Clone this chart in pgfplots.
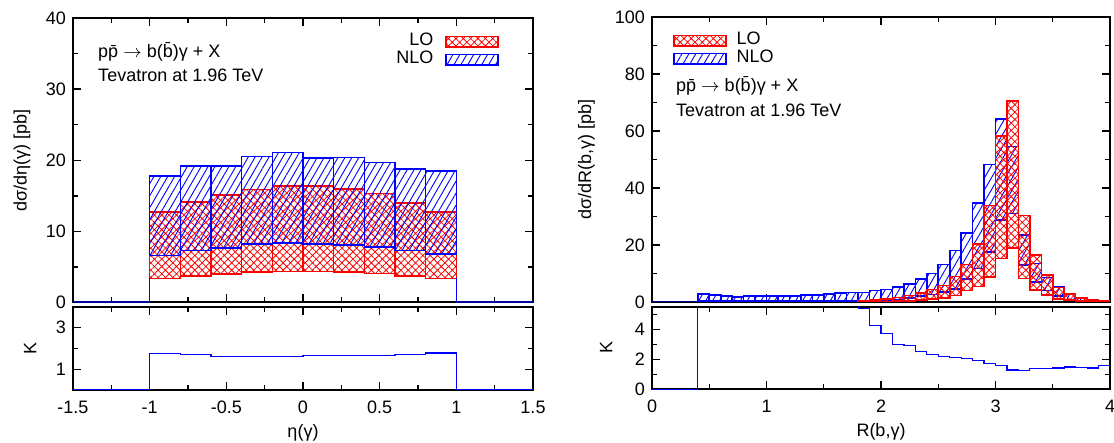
\documentclass[border=0pt]{standalone}
\usepackage{fontspec}
\setmainfont{Liberation Sans}
\usepackage{pgfplots}
\pgfplotsset{compat=1.18}
\usepackage{pgfplotstable}
\usetikzlibrary{patterns.meta}

\tikzset{
  lostyle/.style={draw=red, line width=0.8pt, pattern={Hatch[angle=45,distance=2.6pt,line width=0.4pt]}, pattern color=red},
  nlostyle/.style={draw=blue, line width=0.8pt, pattern={Lines[angle=60,distance=3pt,line width=0.45pt]}, pattern color=blue},
}
\pgfplotsset{
  myaxis/.style={scale only axis, axis line style={line width=1pt},
    tick style={line width=0.7pt, black}, major tick length=4pt, minor tick length=2.5pt,
    font=\fontsize{9}{11}\selectfont, /pgf/number format/assume math mode=true,
    tick align=inside},
}

% eta(gamma) bands: x0 x1 lo hi
\pgfplotstableread{
x0 x1 lo hi
-1.0 -0.8 6.6 17.75
-0.8 -0.6 7.3 19.15
-0.6 -0.4 7.65 19.15
-0.4 -0.2 8.2 20.55
-0.2 0.0 8.35 21.1
0.0 0.2 8.25 20.3
0.2 0.4 8.1 20.4
0.4 0.6 7.8 19.7
0.6 0.8 7.3 18.8
0.8 1.0 6.8 18.5
}\etaNLO
\pgfplotstableread{
x0 x1 lo hi
-1.0 -0.8 3.4 12.7
-0.8 -0.6 3.75 14.1
-0.6 -0.4 4.0 15.1
-0.4 -0.2 4.3 15.9
-0.2 0.0 4.35 16.4
0.0 0.2 4.35 16.4
0.2 0.4 4.3 15.95
0.4 0.6 4.1 15.3
0.6 0.8 3.75 14.0
0.8 1.0 3.4 12.7
}\etaLO
% R(b,gamma) bands
\pgfplotstableread{
x0 x1 lo hi
0.4 0.5 0.3 2.7
0.5 0.6 0.3 2.5
0.6 0.7 0.3 2.1
0.7 0.8 0.3 1.7
0.8 0.9 0.3 2.1
0.9 1.0 0.3 2.1
1.0 1.1 0.3 2.0
1.1 1.2 0.3 2.0
1.2 1.3 0.3 2.1
1.3 1.4 0.3 2.4
1.4 1.5 0.35 2.5
1.5 1.6 0.35 2.8
1.6 1.7 0.4 3.2
1.7 1.8 0.4 3.3
1.8 1.9 0.5 3.3
1.9 2.0 0.6 4.0
2.0 2.1 0.6 4.4
2.1 2.2 0.9 5.3
2.2 2.3 1.4 6.4
2.3 2.4 2.0 8.1
2.4 2.5 2.6 10.0
2.5 2.6 3.5 13.2
2.6 2.7 4.5 18.1
2.7 2.8 8.0 24.2
2.8 2.9 11.8 34.7
2.9 3.0 17.6 48.2
3.0 3.1 28.8 64.3
3.1 3.2 31.0 54.6
3.2 3.3 12.9 23.6
3.3 3.4 7.1 13.5
3.4 3.5 4.1 8.6
3.5 3.6 2.0 5.5
3.6 3.7 0.9 2.6
3.7 3.8 0.4 1.6
3.8 3.9 0.2 0.8
3.9 4.0 0.1 0.4
}\rNLO
\pgfplotstableread{
x0 x1 lo hi
1.8 1.9 0.1 0.5
1.9 2.0 0.15 0.8
2.0 2.1 0.2 1.1
2.1 2.2 0.3 1.6
2.2 2.3 0.3 2.3
2.3 2.4 0.6 3.1
2.4 2.5 1.0 4.4
2.5 2.6 1.4 5.8
2.6 2.7 2.3 9.0
2.7 2.8 4.0 13.2
2.8 2.9 5.4 20.3
2.9 3.0 8.8 33.8
3.0 3.1 15.3 58.3
3.1 3.2 18.9 70.5
3.2 3.3 8.2 30.3
3.3 3.4 4.2 16.4
3.4 3.5 2.5 9.5
3.5 3.6 1.1 5.1
3.6 3.7 0.6 2.7
3.7 3.8 0.3 1.4
3.8 3.9 0.15 0.7
3.9 4.0 0.05 0.3
}\rLO

\newcommand\histbands[2]{%
  \pgfplotstablegetrowsof{#1}%
  \pgfmathtruncatemacro\nlast{\pgfplotsretval-1}%
  \pgfplotsforeachungrouped \ii in {0,...,\nlast}{%
    \pgfplotstablegetelem{\ii}{x0}\of#1\let\xa\pgfplotsretval
    \pgfplotstablegetelem{\ii}{x1}\of#1\let\xb\pgfplotsretval
    \pgfplotstablegetelem{\ii}{lo}\of#1\let\ya\pgfplotsretval
    \pgfplotstablegetelem{\ii}{hi}\of#1\let\yb\pgfplotsretval
    \edef\tmp{\noexpand\addplot[#2, forget plot] coordinates {(\xa,\ya) (\xb,\ya) (\xb,\yb) (\xa,\yb)} -- cycle;}%
    \tmp
  }%
}

\begin{document}
\begin{tikzpicture}
\useasboundingbox (0,0) rectangle (557pt,221.5pt);

% ---------------- left main ----------------
\begin{axis}[myaxis, at={(36.5pt,70.25pt)}, anchor=south west,
  width=230pt, height=142.25pt,
  xmin=-1.5, xmax=1.5, ymin=0, ymax=40,
  xtick={-1.5,-1,-0.5,0,0.5,1,1.5}, minor xtick={-1.25,-0.75,-0.25,0.25,0.75,1.25},
  xticklabels={},
  ytick={0,10,20,30,40}, minor ytick={5,15,25,35},
  ylabel={dσ/dη(γ) [pb]},
  ylabel style={at={(axis description cs:-0.111,0.5)}, anchor=center},
  legend style={at={(0.926,0.948)}, anchor=north east, draw=none, fill=none,
    inner sep=0pt, outer sep=0pt, row sep=0pt, column sep=6pt,
    nodes={inner sep=0pt, text height=6.5pt, text depth=2.5pt}},
  legend plot pos=right, legend cell align=right,
]
\histbands{\etaLO}{lostyle}
\histbands{\etaNLO}{nlostyle}
\addplot[blue!60!black, line width=1pt, forget plot] coordinates {(-1.5,0) (-1,0)};
\addplot[blue!60!black, line width=1pt, forget plot] coordinates {(1,0) (1.5,0)};
\addplot[blue, line width=0.8pt, forget plot] coordinates {(-1,0) (-1,3.4)};
\addplot[blue, line width=0.8pt, forget plot] coordinates {(1,0) (1,3.4)};
\addlegendimage{legend image code/.code={\draw[lostyle] (0pt,-2.7pt) rectangle (26pt,2.7pt);}}
\addlegendentry{LO}
\addlegendimage{legend image code/.code={\draw[nlostyle] (0pt,-2.7pt) rectangle (26pt,2.7pt);}}
\addlegendentry{NLO}
\node[anchor=base west, inner sep=0pt] at (rel axis cs:0.054,0.862) {p\={p} $\rightarrow$ b(\={b})γ + X};
\node[anchor=base west, inner sep=0pt] at (rel axis cs:0.054,0.776) {Tevatron at 1.96 TeV};
\end{axis}

% ---------------- left ratio ----------------
\begin{axis}[myaxis, at={(36.5pt,26.5pt)}, anchor=south west,
  width=230pt, height=41.5pt,
  xmin=-1.5, xmax=1.5, ymin=0, ymax=4,
  xtick={-1.5,-1,-0.5,0,0.5,1,1.5}, minor xtick={-1.25,-0.75,-0.25,0.25,0.75,1.25},
  ytick={1,3}, minor ytick={2},
  xticklabel style={yshift=-2pt},
  xlabel={η(γ)}, ylabel={K},
  xlabel style={at={(axis description cs:0.5,-0.518)}, anchor=center},
  ylabel style={at={(axis description cs:-0.093,0.5)}, anchor=center},
]
\addplot[blue, line width=0.6pt, const plot] coordinates {(-1.5,0) (-1.0,1.75) (-0.8,1.72) (-0.6,1.61) (-0.4,1.62) (-0.2,1.62) (0,1.65) (0.2,1.65) (0.4,1.66) (0.6,1.72) (0.8,1.78) (1.0,0) (1.5,0)};
\end{axis}

% ---------------- right main ----------------
\begin{axis}[myaxis, at={(326pt,70.5pt)}, anchor=south west,
  width=229pt, height=142.5pt,
  xmin=0, xmax=4, ymin=0, ymax=100,
  xtick={0,1,2,3,4}, minor xtick={0.5,1.5,2.5,3.5},
  xticklabels={},
  ytick={0,20,40,60,80,100}, minor ytick={10,30,50,70,90},
  ylabel={dσ/dR(b,γ) [pb]},
  ylabel style={at={(axis description cs:-0.143,0.5)}, anchor=center},
  legend style={at={(0.046,0.948)}, anchor=north west, draw=none, fill=none,
    inner sep=0pt, outer sep=0pt, row sep=0pt, column sep=5pt,
    nodes={inner sep=0pt, text height=6.5pt, text depth=2.5pt}},
  legend cell align=left,
]
\addplot[blue!60!black, line width=1pt, forget plot] coordinates {(0,0) (0.4,0)};
\addplot[red, line width=0.8pt, forget plot] coordinates {(0.4,0) (1.8,0)};
\histbands{\rNLO}{nlostyle}
\histbands{\rLO}{lostyle}
\addlegendimage{legend image code/.code={\draw[lostyle] (0pt,-2.7pt) rectangle (26pt,2.7pt);}}
\addlegendentry{LO}
\addlegendimage{legend image code/.code={\draw[nlostyle] (0pt,-2.7pt) rectangle (26pt,2.7pt);}}
\addlegendentry{NLO}
\node[anchor=base west, inner sep=0pt] at (rel axis cs:0.052,0.738) {p\={p} $\rightarrow$ b(\={b})γ + X};
\node[anchor=base west, inner sep=0pt] at (rel axis cs:0.052,0.650) {Tevatron at 1.96 TeV};
\end{axis}

% ---------------- right ratio ----------------
\begin{axis}[myaxis, at={(326pt,26.85pt)}, anchor=south west,
  width=229pt, height=41.3pt,
  xmin=0, xmax=4, ymin=0, ymax=5.5,
  xtick={0,1,2,3,4}, minor xtick={0.5,1.5,2.5,3.5},
  ytick={0,2,4}, minor ytick={1,3,5},
  xticklabel style={yshift=-2pt},
  xlabel={R(b,γ)}, ylabel={K},
  xlabel style={at={(axis description cs:0.5,-0.517)}, anchor=center},
  ylabel style={at={(axis description cs:-0.100,0.5)}, anchor=center},
]
\addplot[blue, line width=0.6pt, const plot] coordinates {(0,0) (0.4,30) (1.8,5.36) (1.9,4.27) (2.0,3.71) (2.1,3.0) (2.2,2.89) (2.3,2.51) (2.4,2.33) (2.5,2.2) (2.6,2.11) (2.7,2.07) (2.8,1.91) (2.9,1.71) (3.0,1.56) (3.1,1.29) (3.2,1.27) (3.3,1.36) (3.4,1.38) (3.5,1.42) (3.6,1.49) (3.7,1.47) (3.8,1.42) (3.9,1.6) (4.0,1.6)};
\end{axis}
\end{tikzpicture}
\end{document}
